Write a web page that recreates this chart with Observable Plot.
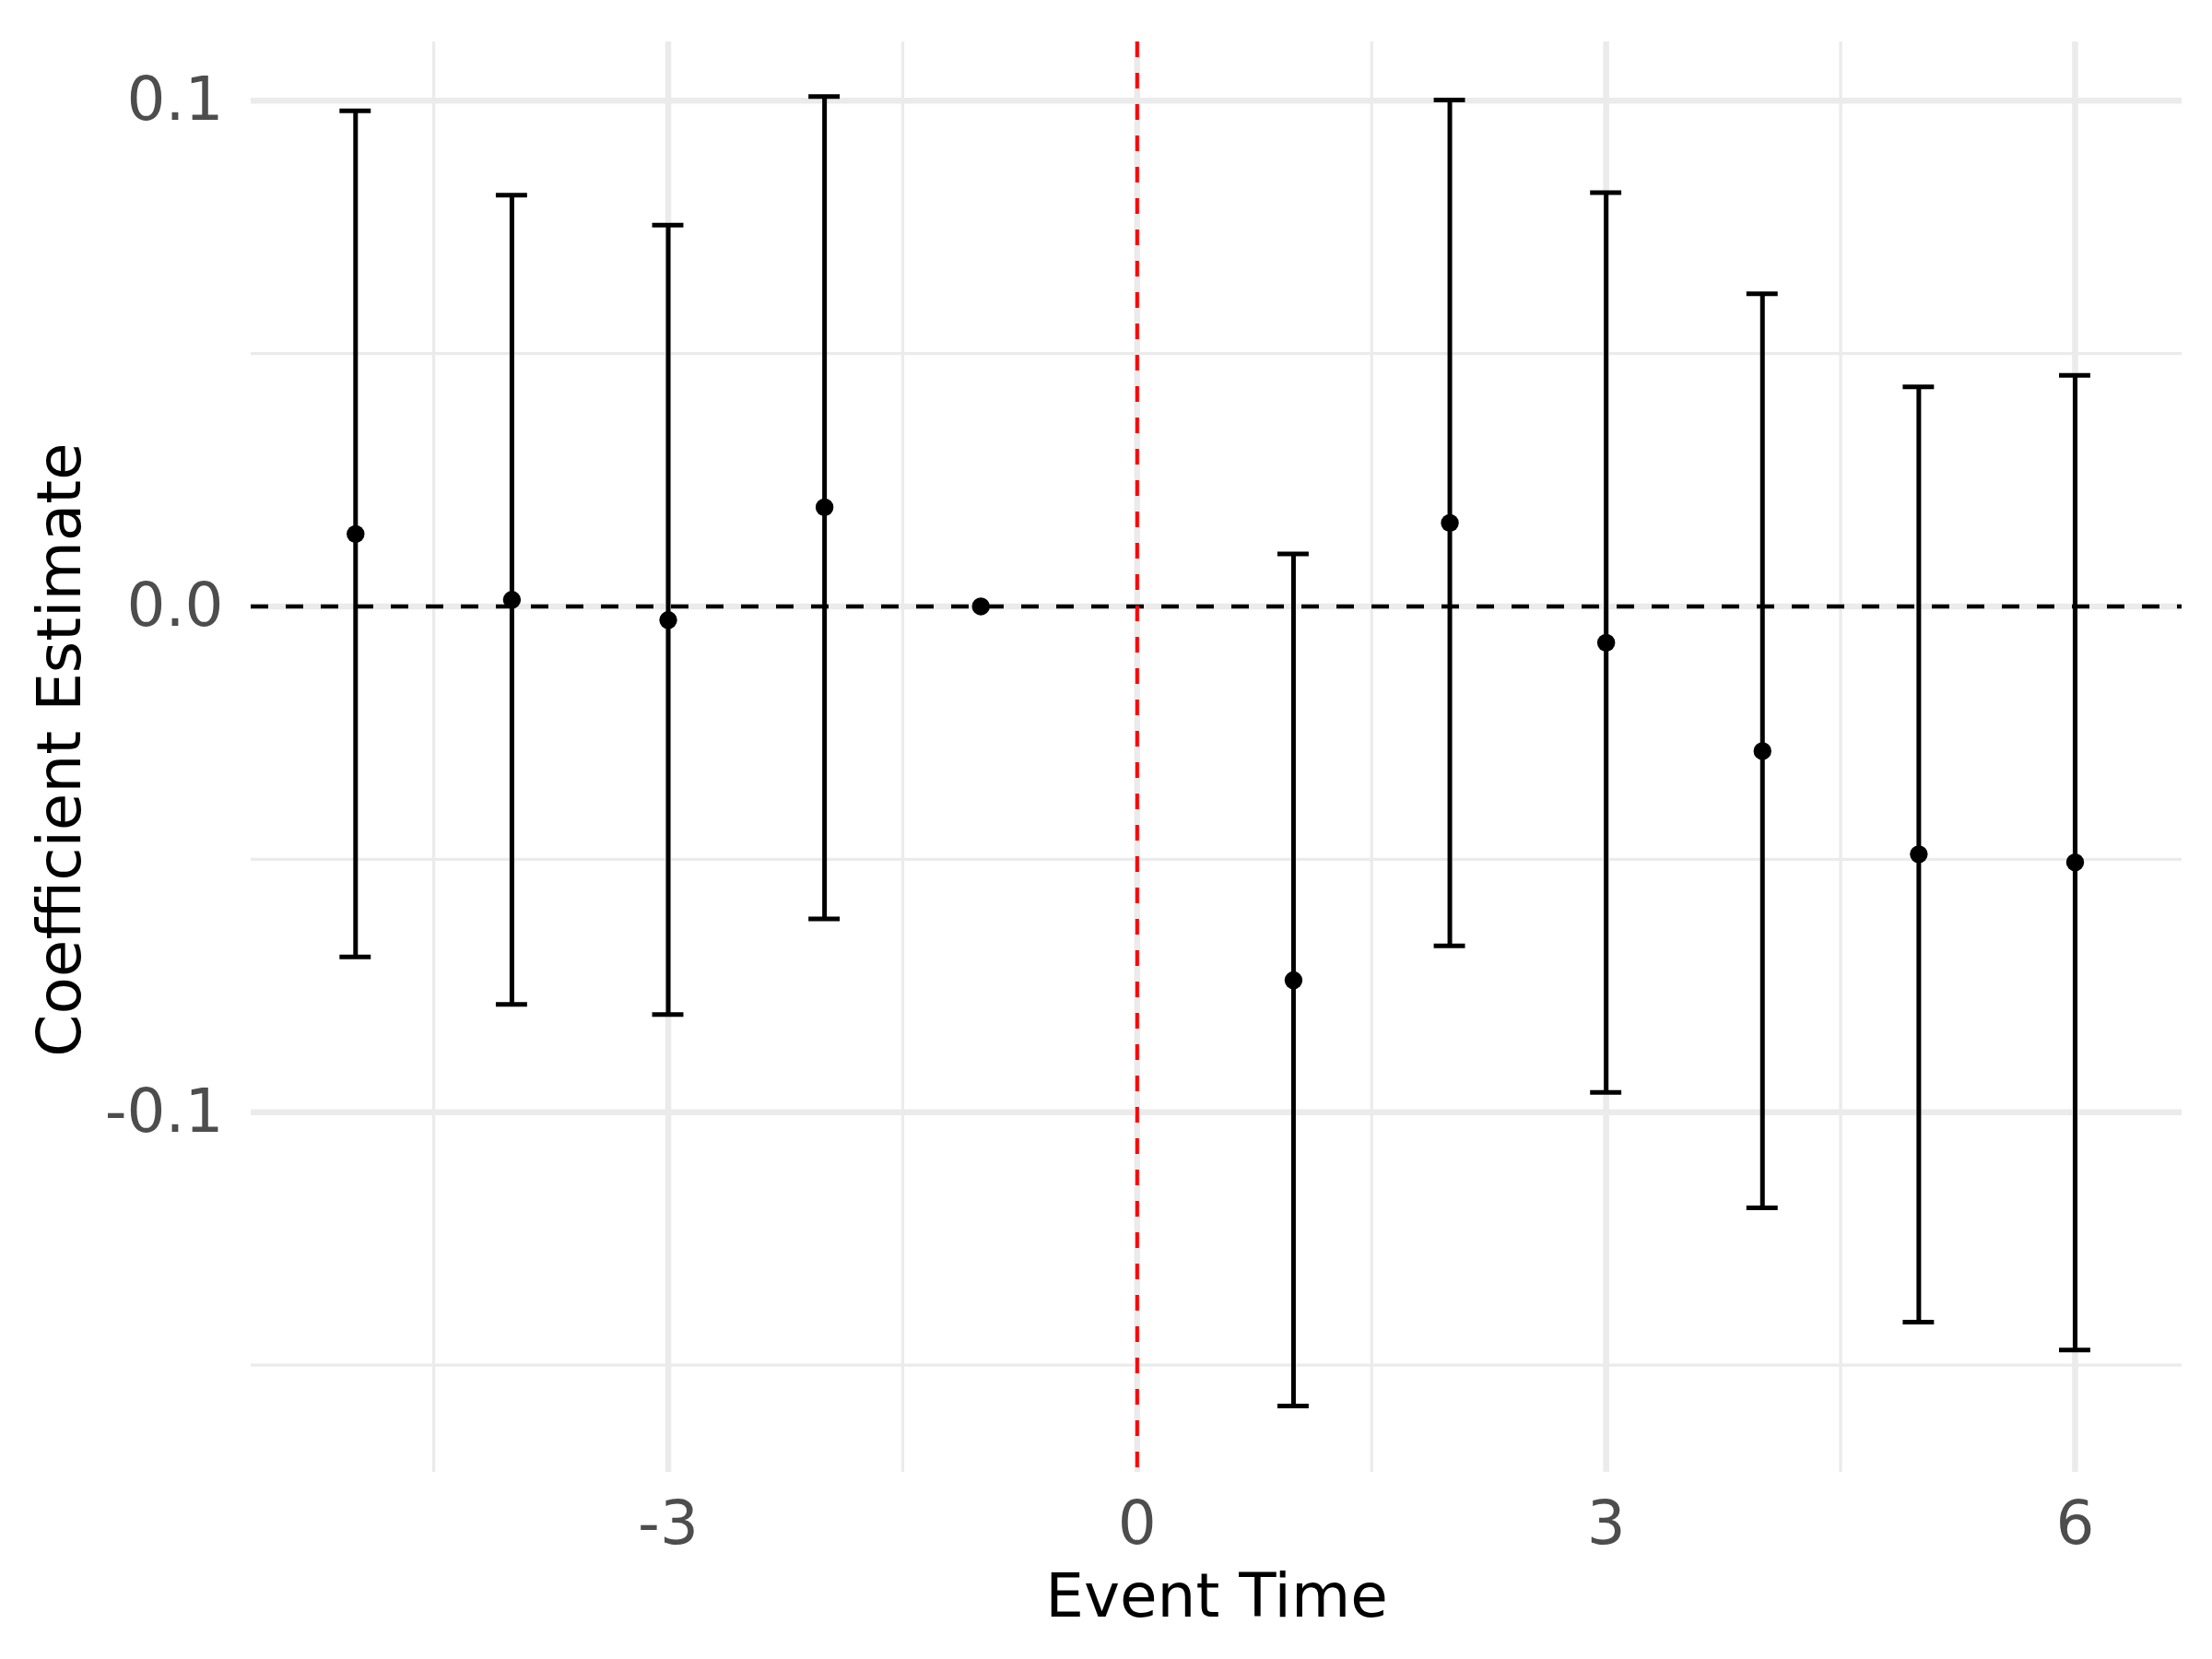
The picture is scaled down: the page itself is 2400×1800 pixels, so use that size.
<!DOCTYPE html>
<html>
<head>
<meta charset="utf-8">
<script src="https://cdn.jsdelivr.net/npm/d3@7"></script>
<script src="https://cdn.jsdelivr.net/npm/@observablehq/plot@0.6"></script>
<style>
  html, body { margin: 0; padding: 0; background: #ffffff; }
  #chart svg { display: block; }
</style>
</head>
<body>
<div id="chart"></div>
<script>
// ---- Data ----
const eventTime = [-5, -4, -3, -2, -1, 1, 2, 3, 4, 5, 6];
const estimate  = [0.0143, 0.0013, -0.0027, 0.0196, 0.0, -0.0739, 0.0165, -0.0072, -0.0286, -0.0490, -0.0506];
const lower     = [-0.0693, -0.0787, -0.0807, -0.0618, null, -0.1581, -0.0671, -0.0961, -0.1189, -0.1415, -0.1470];
const upper     = [0.0980, 0.0813, 0.0754, 0.1008, null, 0.0104, 0.1001, 0.0818, 0.0618, 0.0434, 0.0457];

const xMajorTicks = [-3, 0, 3, 6];
const xMinorTicks = [-4.5, -1.5, 1.5, 4.5];
const yMajorTicks = [-0.1, 0.0, 0.1];
const yMinorTicks = [-0.15, -0.05, 0.05];

const xLabel = "Event Time";
const yLabel = "Coefficient Estimate";

const rows = eventTime.map((t, i) => ({t, est: estimate[i], lo: lower[i], hi: upper[i]}));
const bars = rows.filter(d => d.lo != null && d.hi != null);
const capHalf = 0.1;

const grid = "#EBEBEB";

const chart = Plot.plot({
  width: 2400,
  height: 1800,
  marginLeft: 272,
  marginRight: 33,
  marginTop: 45,
  marginBottom: 203,
  style: {fontFamily: "DejaVu Sans", fontSize: "66px", background: "#ffffff", color: "#000"},
  x: {domain: [-5.668, 6.684]},
  y: {domain: [-0.1712, 0.1116]},
  marks: [
    // grid
    Plot.ruleX(xMinorTicks, {stroke: grid, strokeWidth: 3.3}),
    Plot.ruleY(yMinorTicks, {stroke: grid, strokeWidth: 3.3}),
    Plot.ruleX(xMajorTicks, {stroke: grid, strokeWidth: 6.5}),
    Plot.ruleY(yMajorTicks, {stroke: grid, strokeWidth: 6.5}),
    // axes
    Plot.axisX(xMajorTicks, {tickSize: 0, tickPadding: 31, color: "#4D4D4D", fontSize: 66, tickFormat: d => String(d), label: null}),
    Plot.axisY(yMajorTicks, {tickSize: 0, tickPadding: 30, color: "#4D4D4D", fontSize: 66, tickFormat: d => d.toFixed(1), label: null}),
    // reference lines
    Plot.ruleY([0], {stroke: "#000000", strokeWidth: 4.5, strokeDasharray: "19,19"}),
    Plot.ruleX([0], {stroke: "#FF0000", strokeWidth: 4, strokeDasharray: "17,17"}),
    // error bars
    Plot.ruleX(bars, {x: "t", y1: "lo", y2: "hi", stroke: "#000000", strokeWidth: 5}),
    Plot.ruleY(bars, {y: "hi", x1: d => d.t - capHalf, x2: d => d.t + capHalf, stroke: "#000000", strokeWidth: 5}),
    Plot.ruleY(bars, {y: "lo", x1: d => d.t - capHalf, x2: d => d.t + capHalf, stroke: "#000000", strokeWidth: 5}),
    // points
    Plot.dot(rows, {x: "t", y: "est", r: 9.7, fill: "#000000", stroke: "none"}),
    // axis titles
    Plot.text([xLabel], {frameAnchor: "bottom", lineAnchor: "bottom", textAnchor: "middle", dy: 156, fontSize: 66, fill: "#000000"}),
    Plot.text([yLabel], {frameAnchor: "left", lineAnchor: "bottom", textAnchor: "middle", rotate: -90, dx: -186, dy: -8, fontSize: 66, fill: "#000000"})
  ]
});

document.getElementById("chart").appendChild(chart);
</script>
</body>
</html>
